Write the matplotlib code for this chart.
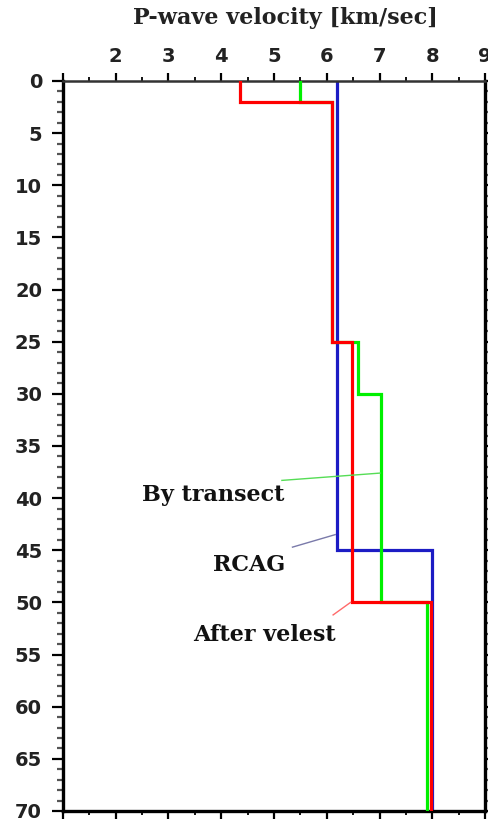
import numpy as np
import matplotlib
matplotlib.use("Agg")
import matplotlib.pyplot as plt
from matplotlib.ticker import MultipleLocator

# layer tops / bottoms (km) and P-wave velocities (km/sec) per model
rcag_depth = [0, 45, 70]
rcag_vel = [6.2, 8.0]

transect_depth = [0, 2, 25, 30, 50, 70]
transect_vel = [5.5, 6.1, 6.6, 7.02, 7.9]

velest_depth = [0, 2, 25, 50, 70]
velest_vel = [4.35, 6.1, 6.48, 7.97]

# label text, label position (vel, depth), leader line start and end (vel, depth)
labels = ["By transect", "RCAG", "After velest"]
label_pos = [(3.85, 40.3), (4.53, 47.0), (4.82, 53.7)]
leader_from = [(5.15, 38.3), (5.35, 44.7), (6.12, 51.2)]
leader_to = [(7.01, 37.6), (6.16, 43.5), (6.45, 50.0)]
leader_col = ["#55dd55", "#7a7aaa", "#ff6a6a"]

x_ticks = [1, 2, 3, 4, 5, 6, 7, 8, 9]
x_ticklabels = ["", "2", "3", "4", "5", "6", "7", "8", "9"]
y_ticks = list(range(0, 75, 5))


def profile(depth, vel):
    # turn layer boundaries into a stair-step velocity profile
    d = np.repeat(depth, 2)[1:-1]
    v = np.repeat(vel, 2)
    return v, d


fig = plt.figure(figsize=(4.88, 8.22), dpi=100)
ax = fig.add_axes([0.129, 0.0134, 0.865, 0.8881])

for (dep, vel), col, z in [((rcag_depth, rcag_vel), "#1c1cc4", 2),
                           ((transect_depth, transect_vel), "#00f000", 3),
                           ((velest_depth, velest_vel), "#ff0000", 4)]:
    v, d = profile(dep, vel)
    ax.plot(v, d, color=col, lw=2.3, zorder=z, solid_joinstyle="miter")

for txt, pos, p0, p1, c in zip(labels, label_pos, leader_from, leader_to, leader_col):
    ax.plot([p0[0], p1[0]], [p0[1], p1[1]], color=c, lw=1.0, zorder=5)
    ax.text(pos[0], pos[1], txt, ha="center", va="baseline",
            family="DejaVu Serif", fontweight="bold", fontsize=16, color="#111111")

ax.set_xlim(1, 9)
ax.set_ylim(70, 0)

ax.xaxis.tick_top()
ax.set_xticks(x_ticks)
ax.set_xticklabels(x_ticklabels)
ax.set_yticks(y_ticks)
ax.xaxis.set_minor_locator(MultipleLocator(0.5))
ax.yaxis.set_minor_locator(MultipleLocator(1))

ax.tick_params(axis="x", which="both", top=True, bottom=True, direction="out",
               labeltop=True, labelbottom=False)
ax.tick_params(axis="y", which="both", left=True, right=True, direction="out")
ax.tick_params(axis="x", which="major", length=6, width=1.6, pad=5)
ax.tick_params(axis="x", which="minor", length=3, width=1.3)
ax.tick_params(axis="y", which="major", length=8, width=1.6, pad=7)
ax.tick_params(axis="y", which="minor", length=4, width=1.6, color="#555555")
for lab in ax.get_xticklabels() + ax.get_yticklabels():
    lab.set_family("DejaVu Sans")
    lab.set_fontweight("bold")
    lab.set_fontsize(14)
    lab.set_color("#222222")

for side in ["left", "right", "bottom"]:
    ax.spines[side].set_linewidth(2.4)
ax.spines["top"].set_linewidth(1.8)
ax.spines["top"].set_color("#333333")

fig.text(0.584, 0.978, "P-wave velocity [km/sec]", ha="center", va="center",
         family="DejaVu Serif", fontweight="bold", fontsize=16, color="#222222")

fig.savefig("out.png", dpi=100)
